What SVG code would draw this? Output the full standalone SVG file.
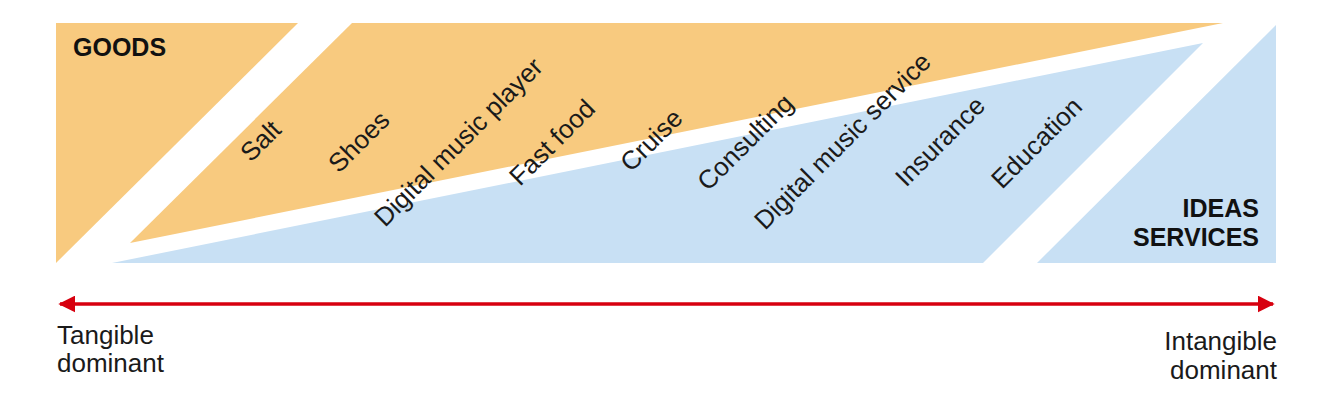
<svg xmlns="http://www.w3.org/2000/svg" width="1324" height="420" viewBox="0 0 1324 420">
<style>
.org{fill:#F8CA7F}
.blu{fill:#C8E0F4}
.t{font-family:"Liberation Sans",Arial,sans-serif;font-size:26px;fill:#1a1a1a}
.b{font-family:"Liberation Sans",Arial,sans-serif;font-size:25px;font-weight:bold;fill:#111}
.arr{stroke:#D7000F;stroke-width:3.5;fill:none}
</style>
<defs>
<marker id="ah" viewBox="0 0 10 10" refX="9" refY="5" markerWidth="17" markerHeight="17" markerUnits="userSpaceOnUse" orient="auto-start-reverse">
<path d="M0,0 L10,5 L0,10 z" fill="#D7000F"/>
</marker>
</defs>
<rect width="1324" height="420" fill="#fff"/>
<g id="goods-corner"><polygon class="org" points="56,23 298,23 56,263"/><text class="b" x="73" y="56">GOODS</text></g>
<g id="goods-band"><polygon class="org" points="352,23 1223,23 130,243"/></g>
<g id="services-band"><polygon class="blu" points="112,263 1203,43 983,263"/></g>
<g id="services-corner"><polygon class="blu" points="1276,25 1276,263 1037,263"/><text class="b" x="1259" y="217" text-anchor="end">IDEAS</text><text class="b" x="1259" y="246" text-anchor="end">SERVICES</text></g>
<g id="lbl-salt"><text class="t" transform="translate(251,163) rotate(-45)">Salt</text></g>
<g id="lbl-shoes"><text class="t" transform="translate(339,174) rotate(-45)">Shoes</text></g>
<g id="lbl-player"><text class="t" transform="translate(385,228) rotate(-45)">Digital music player</text></g>
<g id="lbl-fastfood"><text class="t" transform="translate(520,187) rotate(-45)">Fast food</text></g>
<g id="lbl-cruise"><text class="t" transform="translate(631,173) rotate(-45)">Cruise</text></g>
<g id="lbl-consulting"><text class="t" transform="translate(708,192) rotate(-45)">Consulting</text></g>
<g id="lbl-musicservice"><text class="t" transform="translate(765,231) rotate(-45)">Digital music service</text></g>
<g id="lbl-insurance"><text class="t" transform="translate(906,188) rotate(-45)">Insurance</text></g>
<g id="lbl-education"><text class="t" transform="translate(1002,190) rotate(-45)">Education</text></g>
<g id="connectors"><line class="arr" x1="60" y1="304" x2="1273" y2="304" marker-start="url(#ah)" marker-end="url(#ah)"/></g>
<g id="lbl-tangible"><text class="t" x="57" y="344">Tangible</text><text class="t" x="57" y="372">dominant</text></g>
<g id="lbl-intangible"><text class="t" x="1277" y="350" text-anchor="end">Intangible</text><text class="t" x="1277" y="379" text-anchor="end">dominant</text></g>
</svg>
